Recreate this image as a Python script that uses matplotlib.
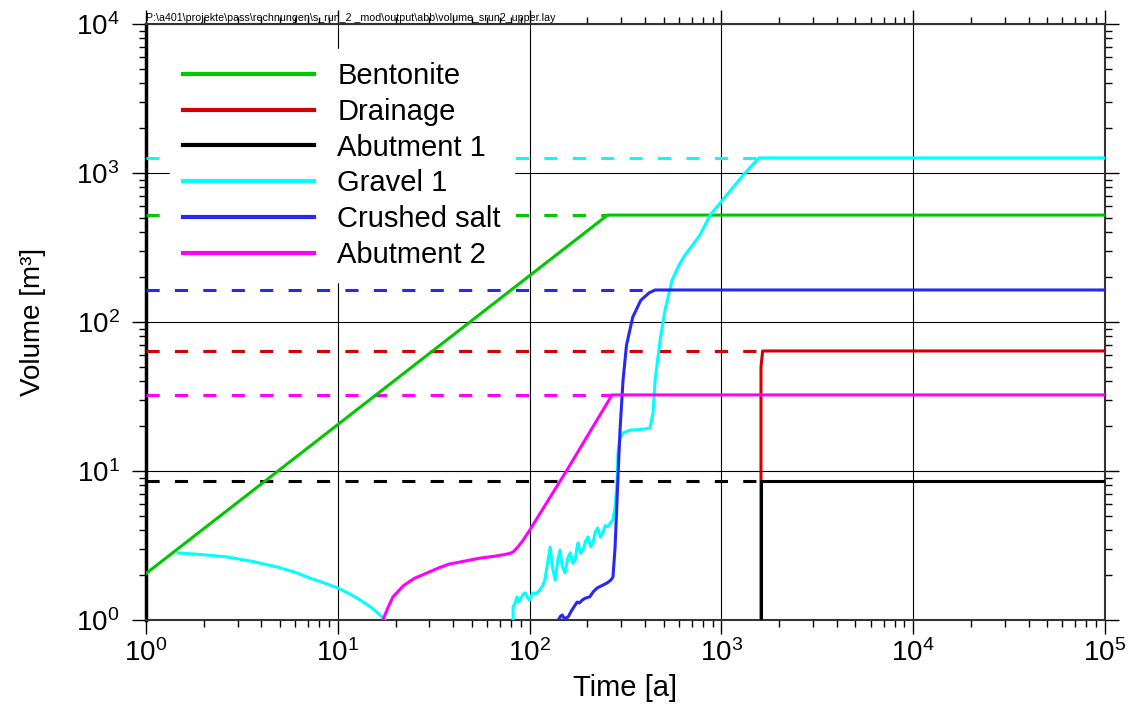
import matplotlib
matplotlib.use("Agg")
import matplotlib.pyplot as plt
from matplotlib.ticker import LogLocator, NullFormatter

plt.rcParams["font.family"] = ["Liberation Sans", "DejaVu Sans"]
plt.rcParams["mathtext.default"] = "regular"

# time [a] / volume [m3]
bentonite_t = [1.0, 255, 1e5]
bentonite_v = [2.05, 522, 522]

drainage_t = [1608, 1608, 1640, 1e5]
drainage_v = [1.0, 50, 63.9, 63.9]

abutment1_t = [1600, 1600, 1e5]
abutment1_v = [1.0, 8.57, 8.57]

gravel_early_t = [1.47, 2.0, 2.64, 3.6, 4.82, 6.0, 7.16, 8.5, 10.0, 11.5,
                  13.1, 15.0, 17.0, 17.6]
gravel_early_v = [2.82, 2.74, 2.65, 2.47, 2.27, 2.09, 1.91, 1.77, 1.64, 1.50,
                  1.36, 1.21, 1.05, 1.0]

gravel_t = [82, 82, 84, 86, 88, 91, 93, 95, 98, 100, 102, 104, 108, 113, 117,
            120, 124, 128, 132, 136, 140, 144, 148, 153, 158, 163, 168, 173,
            176, 179, 184, 190, 196, 202, 208, 214, 220, 227, 234, 241, 248,
            256, 264, 272, 279, 286, 289, 296, 307, 334, 380, 424, 440, 451,
            479, 508, 553, 600, 646, 710, 773, 873, 1045, 1327, 1570, 1e5]
gravel_v = [1.0, 1.22, 1.30, 1.43, 1.33, 1.43, 1.50, 1.52, 1.40, 1.36, 1.45,
            1.52, 1.50, 1.59, 1.70, 1.85, 2.4, 3.09, 2.2, 1.85, 2.5, 2.95, 2.3,
            2.07, 2.6, 2.82, 2.4, 2.53, 3.0, 3.29, 2.8, 2.95, 3.4, 3.61, 3.1,
            3.29, 3.9, 4.14, 3.6, 3.84, 4.3, 4.21, 4.5, 4.69, 5.73, 8.7, 13.2,
            16.5, 18.0, 18.8, 19.0, 19.4, 24.5, 40.8, 75.7, 120, 191, 240,
            282, 330, 384, 522, 690, 1000, 1262, 1262]

salt_t = [141, 145, 148, 152, 159, 165, 170, 177, 182, 188, 195, 206, 215, 225,
          238, 253, 265, 272, 279, 286, 296, 307, 320, 345, 380, 420, 451, 1e5]
salt_v = [1.0, 1.06, 1.08, 1.02, 1.05, 1.15, 1.22, 1.32, 1.30, 1.36, 1.40,
          1.43, 1.55, 1.64, 1.70, 1.77, 1.85, 1.94, 3.09, 6.69, 18.8, 40.8,
          70, 108, 140, 157, 164, 164]

abutment2_t = [17.2, 18.2, 19.4, 22, 25, 29.2, 34, 38, 43.4, 55, 66, 74, 79,
               82, 87, 92, 100, 157, 269, 1e5]
abutment2_v = [1.0, 1.2, 1.43, 1.70, 1.90, 2.07, 2.25, 2.37, 2.45, 2.60, 2.68,
               2.75, 2.80, 2.86, 3.1, 3.4, 4.0, 10.2, 32.4, 32.4]

# maximum volumes (dashed) and the time where the solid plateau takes over
max_volume = [522, 63.9, 8.57, 1262, 164, 32.4]
max_until = [255, 1608, 1600, 1570, 451, 269]

names = ["Bentonite", "Drainage", "Abutment 1", "Gravel 1", "Crushed salt", "Abutment 2"]
colors = ["#00c800", "#d20000", "#000000", "#00ffff", "#2828f0", "#ff00ff"]

path_text = r"P:\a401\projekte\pass\rechnungen\s_run_2 _mod\output\abb\volume_srun2_upper.lay"


def main() -> None:
    fig = plt.figure(figsize=(11.37, 7.15), dpi=100)
    ax = fig.add_axes([0.1284, 0.1329, 0.8435, 0.8335])

    lw = 2.2
    series = [
        [(bentonite_t, bentonite_v)],
        [(drainage_t, drainage_v)],
        [(abutment1_t, abutment1_v)],
        [(gravel_early_t, gravel_early_v), (gravel_t, gravel_v)],
        [(salt_t, salt_v)],
        [(abutment2_t, abutment2_v)],
    ]

    handles = []
    for name, color, parts, vmax, tend in zip(names, colors, series, max_volume, max_until):
        ax.plot([1.0, tend], [vmax, vmax], color=color, lw=lw,
                dashes=(4.3, 5.0), zorder=3)
        for i, (t, v) in enumerate(parts):
            (ln,) = ax.plot(t, v, color=color, lw=lw, zorder=4,
                            label=name if i == 0 else None)
            if i == 0:
                handles.append(ln)

    ax.set_xscale("log")
    ax.set_yscale("log")
    ax.set_xlim(1, 1e5)
    ax.set_ylim(1, 1e4)

    ax.xaxis.set_minor_locator(LogLocator(base=10, subs=range(2, 10), numticks=20))
    ax.yaxis.set_minor_locator(LogLocator(base=10, subs=range(2, 10), numticks=20))
    ax.xaxis.set_minor_formatter(NullFormatter())
    ax.yaxis.set_minor_formatter(NullFormatter())

    ax.grid(True, which="major", color="#000000", lw=0.8, zorder=1)
    ax.tick_params(which="both", direction="out", top=True, right=True,
                   labelsize=20, width=1)
    ax.tick_params(which="major", length=10)
    ax.tick_params(axis="y", which="major", pad=9)
    ax.tick_params(axis="x", which="major", pad=4)
    ax.tick_params(which="minor", length=5)
    for s in ax.spines.values():
        s.set_linewidth(1.5)
        s.set_color("#333333")
    ax.spines["left"].set_linewidth(2.5)
    ax.spines["left"].set_color("#000000")

    ax.set_xlabel("Time [a]", fontsize=21, labelpad=5)
    ax.set_ylabel("Volume [m³]", fontsize=20, labelpad=22)

    leg = ax.legend(handles=handles, loc="upper left",
                    bbox_to_anchor=(0.025, 0.958), fontsize=21,
                    handlelength=4.5, handletextpad=0.79, labelspacing=0.265,
                    borderaxespad=0, borderpad=0.45, frameon=True,
                    fancybox=False, framealpha=1, facecolor="white",
                    edgecolor="white")
    leg.set_zorder(10)
    for ln in leg.get_lines():
        ln.set_linewidth(3)

    fig.text(146 / 1137, 1 - 18 / 715, path_text, fontsize=7.7,
             ha="left", va="center")

    fig.savefig("out.png", dpi=100)
    plt.close(fig)


if __name__ == "__main__":
    main()
